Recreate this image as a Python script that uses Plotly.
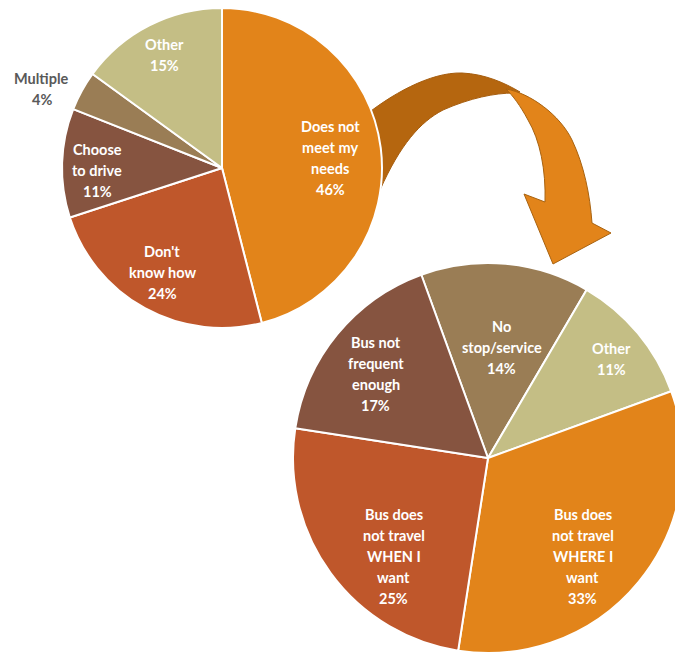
import math
import plotly.graph_objects as go

# ---------------- data ----------------
reasons_labels = ["Does not<br>meet my<br>needs", "Don't<br>know how", "Choose<br>to drive", "Multiple", "Other"]
reasons_values = [46, 24, 11, 4, 15]

needs_labels = ["No<br>stop/service", "Other", "Bus does<br>not travel<br>WHERE I<br>want",
                "Bus does<br>not travel<br>WHEN I<br>want", "Bus not<br>frequent<br>enough"]
needs_values = [14, 11, 33, 25, 17]

# ---------------- styles / layout ----------------
OFF = 8                      # default page (body) margin
SW, SH = 683, 653            # screen size
W, H = SW - OFF, SH - OFF    # figure size
C_ORANGE = "#E2841A"
C_RUST = "#BF572B"
C_BROWN = "#865440"
C_TAN = "#9A7D55"
C_KHAKI = "#C4BE85"

reasons_colors = [C_ORANGE, C_RUST, C_BROWN, C_TAN, C_KHAKI]
needs_colors = [C_TAN, C_KHAKI, C_ORANGE, C_RUST, C_BROWN]

# pie geometry in screen pixels: centre and radius
P1 = dict(cx=222, cy=168, r=160, rot=0)
P2 = dict(cx=488, cy=458, r=195, rot=-20)

# label placement (radial fraction, angle offset deg, text colour)
reasons_lab_f = [0.68, 0.75, 0.78, 1.23, 0.79]
reasons_lab_da = [2, 1, -3, -5, 0]
reasons_lab_col = ["white", "white", "white", "#595959", "white"]

needs_lab_f = [0.57, 0.81, 0.70, 0.70, 0.72]
needs_lab_da = [2, 1, 6.5, -10, -2.5]
needs_lab_col = ["white"] * 5

LINE_H = 21
FONT = "Lato"
FSIZE = 14.5


def domain(p):
    x0, x1 = (p["cx"] - p["r"] - OFF) / W, (p["cx"] + p["r"] - OFF) / W
    y0, y1 = 1 - (p["cy"] + p["r"] - OFF) / H, 1 - (p["cy"] - p["r"] - OFF) / H
    return dict(x=[max(0, x0), min(1, x1)], y=[max(0, y0), min(1, y1)])


fig = go.Figure()

# invisible cartesian layer (screen-pixel coordinates) for the arrow & labels
fig.add_trace(go.Scatter(x=[], y=[], showlegend=False, hoverinfo="skip"))

for labels, values, colors, p in [
    (reasons_labels, reasons_values, reasons_colors, P1),
    (needs_labels, needs_values, needs_colors, P2),
]:
    fig.add_trace(go.Pie(
        labels=[l.replace("<br>", " ") for l in labels],
        values=values,
        sort=False,
        direction="clockwise",
        rotation=p["rot"],
        textinfo="none",
        hoverinfo="label+percent",
        marker=dict(colors=colors, line=dict(color="white", width=2)),
        domain=domain(p),
        showlegend=False,
    ))

annotations = []


def add_labels(labels, values, p, fr, da, cols):
    total = sum(values)
    cum = 0
    for lab, v, f, d, col in zip(labels, values, fr, da, cols):
        mid = p["rot"] + (cum + v / 2) / total * 360 + d
        cum += v
        a = math.radians(mid)
        x = p["cx"] + f * p["r"] * math.sin(a)
        y = p["cy"] - f * p["r"] * math.cos(a)
        lines = lab.split("<br>") + [f"{v}%"]
        n = len(lines)
        for i, t in enumerate(lines):
            annotations.append(dict(
                x=x, y=y, xref="x", yref="y", showarrow=False,
                text=f"<b>{t}</b>",
                yshift=-(i - (n - 1) / 2) * LINE_H,
                font=dict(family=FONT, size=FSIZE, color=col),
                xanchor="center", yanchor="middle",
            ))


add_labels(reasons_labels, reasons_values, P1, reasons_lab_f, reasons_lab_da, reasons_lab_col)
add_labels(needs_labels, needs_values, P2, needs_lab_f, needs_lab_da, needs_lab_col)

# curved arrow (decoration), drawn below the pies
arrow_back = ("M 362,118 C 390,95 430,72 462,73 C 485,74 505,83 520,92 "
              "L 514,93 C 495,93 470,98 443,110 C 420,122 400,145 380,190 Z")
arrow_front = ("M 506,89 C 530,93 560,115 572,140 C 584,165 590,195 592,223 "
               "L 611,233 L 553,264 L 524,194 L 545,202 "
               "C 546,170 540,140 528,120 C 520,105 513,96 506,89 Z")
shapes = [
    dict(type="path", path=arrow_back, xref="x", yref="y", layer="below",
         fillcolor="#B5660F", line=dict(color="#A65D0E", width=1)),
    dict(type="path", path=arrow_front, xref="x", yref="y", layer="below",
         fillcolor=C_ORANGE, line=dict(color="#A8620F", width=1)),
]

fig.update_layout(
    width=W, height=H,
    margin=dict(l=0, r=0, t=0, b=0),
    paper_bgcolor="white", plot_bgcolor="white",
    xaxis=dict(range=[OFF, SW], visible=False, fixedrange=True, domain=[0, 1]),
    yaxis=dict(range=[SH, OFF], visible=False, fixedrange=True, domain=[0, 1]),
    annotations=annotations,
    shapes=shapes,
    showlegend=False,
)

fig.write_html("out.html")
